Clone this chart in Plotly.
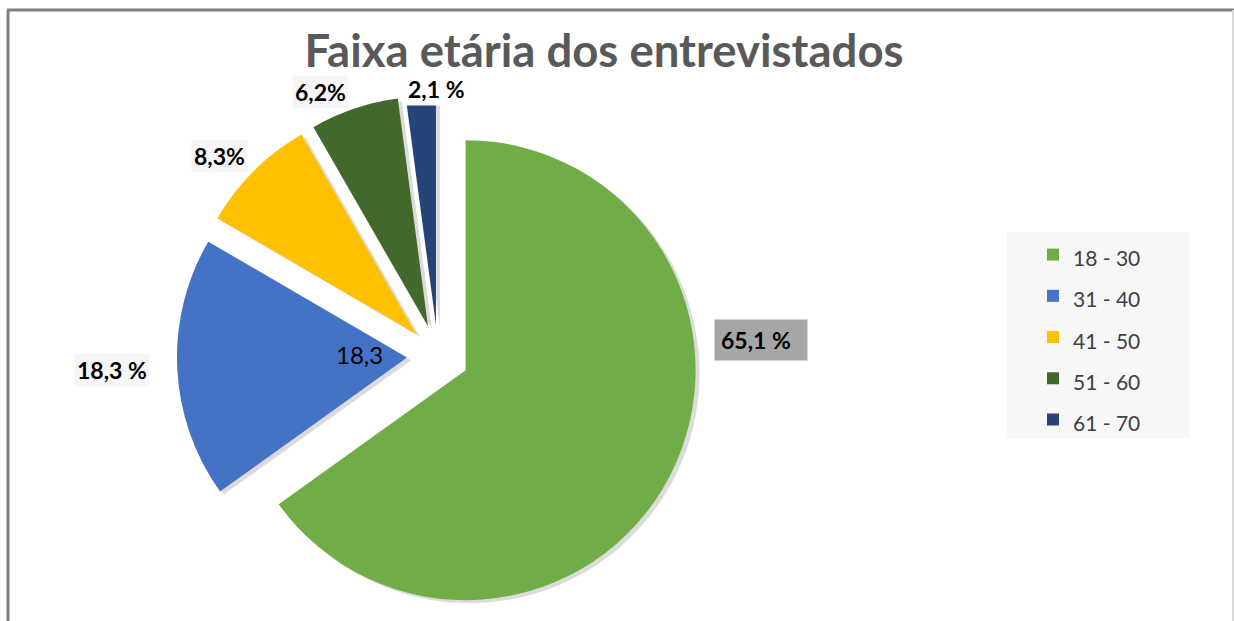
import plotly.graph_objects as go

# ---- data ----
age_groups = ["18 - 30", "31 - 40", "41 - 50", "51 - 60", "61 - 70"]
percentages = [65.1, 18.3, 8.3, 6.2, 2.1]
label_texts = ["65,1 %", "18,3 %", "8,3%", "6,2%", "2,1 %"]
inner_label = "18,3"
colors = ["#70ad47", "#4472c4", "#ffc000", "#43682b", "#264478"]

W, H = 1234, 621
pull = 0.135
cx, cy, R = 438, 356, 230
half = R * (1 + pull)

def px_x(x):
    return x / W

def px_y(y):
    return min(1.0, max(0.0, 1 - y / H))

dom_x = [px_x(cx - half), px_x(cx + half)]
dom_y = [px_y(cy + half), px_y(cy - half)]

fig = go.Figure()

# soft shadow copy of the pie
shx, shy = 4, 3
fig.add_trace(go.Pie(
    labels=age_groups, values=percentages, sort=False, direction="clockwise",
    rotation=0, pull=[pull] * 5, textinfo="none", hoverinfo="skip",
    showlegend=False,
    marker=dict(colors=["rgba(0,0,0,0.14)"] * 5, line=dict(width=0)),
    domain=dict(x=[px_x(cx - half + shx), px_x(cx + half + shx)],
                y=[px_y(cy + half + shy), px_y(cy - half + shy)]),
))

fig.add_trace(go.Pie(
    labels=[f"<span style='font-size:21px'>{g}</span>" for g in age_groups],
    values=percentages, sort=False, direction="clockwise",
    rotation=0, pull=[pull] * 5, textinfo="none",
    marker=dict(colors=colors, line=dict(width=0)),
    domain=dict(x=dom_x, y=dom_y),
))

# data labels
lab_pos = [(761, 340), (112, 370), (219, 156), (320, 92), (436, 89)]
for (x, y), t, i in zip(lab_pos, label_texts, range(5)):
    extra = dict(width=80, align="left") if i == 0 else {}
    fig.add_annotation(
        x=px_x(x), y=px_y(y), xref="paper", yref="paper", text=f"<b>{t}</b>",
        showarrow=False, font=dict(family="Lato", size=23, color="#000000"),
        bgcolor="#a6a6a6" if i == 0 else ("#ffffff" if i == 4 else "#f6f6f6"),
        borderpad=6 if i == 0 else 2,
        xanchor="center", yanchor="middle", **extra,
    )
fig.add_annotation(
    x=px_x(359), y=px_y(354), xref="paper", yref="paper", text=inner_label,
    showarrow=False, font=dict(family="Lato", size=24, color="#000000"),
    xanchor="center", yanchor="middle",
)

# legend background box and chart border
fig.add_shape(type="rect", xref="paper", yref="paper",
              x0=px_x(1007), x1=px_x(1189), y0=px_y(438), y1=px_y(232),
              fillcolor="#f7f7f7", line=dict(width=0), layer="below")
fig.add_shape(type="line", xref="paper", yref="paper",
              x0=px_x(7), x1=1, y0=px_y(10), y1=px_y(10),
              line=dict(color="#7f7f7f", width=3))
fig.add_shape(type="line", xref="paper", yref="paper",
              x0=px_x(8), x1=px_x(8), y0=0, y1=px_y(10),
              line=dict(color="#7f7f7f", width=3))
fig.add_shape(type="line", xref="paper", yref="paper",
              x0=px_x(1233), x1=px_x(1233), y0=0, y1=px_y(10),
              line=dict(color="#d9d9d9", width=2))

fig.update_layout(
    width=W, height=H,
    margin=dict(l=0, r=0, t=0, b=0),
    paper_bgcolor="white", plot_bgcolor="white",
    title=dict(text="<b>Faixa etária dos entrevistados</b>",
               x=px_x(604), xanchor="center", y=px_y(51), yanchor="middle",
               font=dict(family="Lato", size=45.5, color="#595959")),
    legend=dict(x=px_x(1033), xanchor="left", y=px_y(229), yanchor="top",
                bgcolor="rgba(0,0,0,0)", font=dict(family="Lato", size=29.4, color="#404040"),
                traceorder="normal"),
)

fig.write_html("out.html", config={"displayModeBar": False},
               post_script="document.body.style.margin='0';document.body.style.overflow='hidden';")
